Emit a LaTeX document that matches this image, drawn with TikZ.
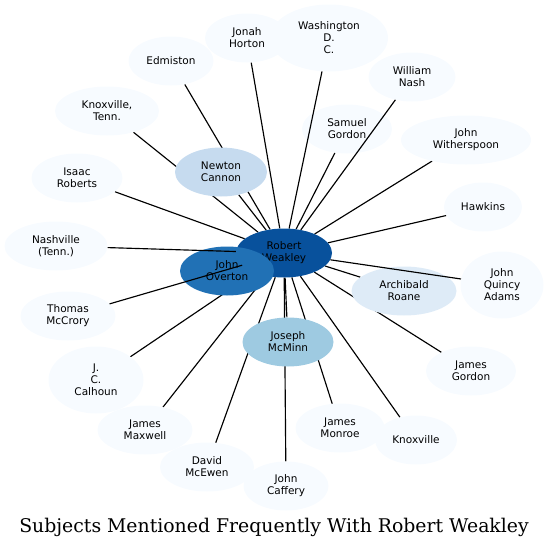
\documentclass[tikz,border=0pt]{standalone}
\usepackage{fontspec}
\setmainfont{DejaVu Serif}
\setsansfont{DejaVu Sans}
\usepackage{tikz}
\usetikzlibrary{shapes.geometric,backgrounds}

\definecolor{blues0}{HTML}{F7FBFF}
\definecolor{blues1}{HTML}{DEEBF7}
\definecolor{blues2}{HTML}{C6DBEF}
\definecolor{blues3}{HTML}{9ECAE1}
\definecolor{blues5}{HTML}{2171B5}
\definecolor{blues6}{HTML}{08519C}

\begin{document}
\begin{tikzpicture}[x=1pt,y=-1pt,
  subj node/.style={ellipse, fill=blues0, inner sep=0pt, minimum height=49pt, align=center,
    font=\sffamily\fontsize{10.5}{12}\selectfont},
  tall node/.style={subj node, minimum height=67pt},
  link/.style={line width=1.15pt}]

  \useasboundingbox (0,0) rectangle (550,547);

  % the central subject, then the strongest links
  \node [subj node, fill=blues6, minimum width=96pt] (Weakley) at (284,253) {Robert\\Weakley};
  \node [subj node, fill=blues5, minimum width=94pt] (Overton) at (227,271) {John\\Overton};
  \node [subj node, fill=blues3, minimum width=91pt] (McMinn) at (288,342) {Joseph\\McMinn};
  \node [subj node, fill=blues2, minimum width=92pt] (Cannon) at (221,172) {Newton\\Cannon};
  \node [subj node, fill=blues1, minimum width=105pt] (Roane) at (404,291) {Archibald\\Roane};

  % everything else
  \node [subj node, minimum width=84pt] (Horton) at (247,38) {Jonah\\Horton};
  \node [tall node, minimum width=118pt] (Washington) at (329,38) {Washington\\D.\\C.};
  \node [subj node, minimum width=85pt] (Edmiston) at (171,61) {Edmiston};
  \node [subj node, minimum width=104pt] (KnoxTenn) at (107,111) {Knoxville,\\Tenn.};
  \node [subj node, minimum width=87pt] (Nash) at (412,77) {William\\Nash};
  \node [subj node, minimum width=90pt] (SGordon) at (347,129) {Samuel\\Gordon};
  \node [subj node, minimum width=130pt] (Witherspoon) at (466,140) {John\\Witherspoon};
  \node [subj node, minimum width=91pt] (IRoberts) at (77,178) {Isaac\\Roberts};
  \node [subj node, minimum width=78pt] (Hawkins) at (483,207) {Hawkins};
  \node [subj node, minimum width=103pt] (Nashville) at (56,246) {Nashville\\(Tenn.)};
  \node [tall node, minimum width=83pt] (Adams) at (502,285) {John\\Quincy\\Adams};
  \node [subj node, minimum width=95pt] (McCrory) at (68,316) {Thomas\\McCrory};
  \node [tall node, minimum width=95pt] (Calhoun) at (96,380) {J.\\C.\\Calhoun};
  \node [subj node, minimum width=90pt] (JGordon) at (471,371) {James\\Gordon};
  \node [subj node, minimum width=95pt] (Maxwell) at (145,430) {James\\Maxwell};
  \node [subj node, minimum width=89pt] (Monroe) at (340,428) {James\\Monroe};
  \node [subj node, minimum width=82pt] (Knoxville) at (416,440) {Knoxville};
  \node [subj node, minimum width=94pt] (McEwen) at (207,467) {David\\McEwen};
  \node [subj node, minimum width=85pt] (Caffery) at (286,486) {John\\Caffery};

  \begin{scope}[on background layer]
    \draw [link] (Weakley) -- (Overton) (Weakley) -- (McMinn) (Weakley) -- (Cannon)
      (Weakley) -- (Roane) (Weakley) -- (Horton) (Weakley) -- (Edmiston)
      (Weakley) -- (KnoxTenn) (Weakley) -- (SGordon) (Weakley) -- (Witherspoon)
      (Weakley) -- (IRoberts) (Weakley) -- (Hawkins) (Weakley) -- (Calhoun)
      (Weakley) -- (JGordon) (Weakley) -- (Maxwell) (Weakley) -- (Monroe)
      (Weakley) -- (Knoxville) (Weakley) -- (McEwen) (Weakley) -- (Caffery);
  \end{scope}
  % these cross over the nodes they pass
  \draw [link] (Weakley) -- (Washington) (Weakley) -- (Nash) (Weakley) -- (Nashville)
    (Weakley) -- (Adams) (Weakley) -- (McCrory);

  \node [anchor=base, font=\fontsize{18.85}{23}\selectfont] (title) at (274,532)
    {Subjects Mentioned Frequently With Robert Weakley};
\end{tikzpicture}
\end{document}
